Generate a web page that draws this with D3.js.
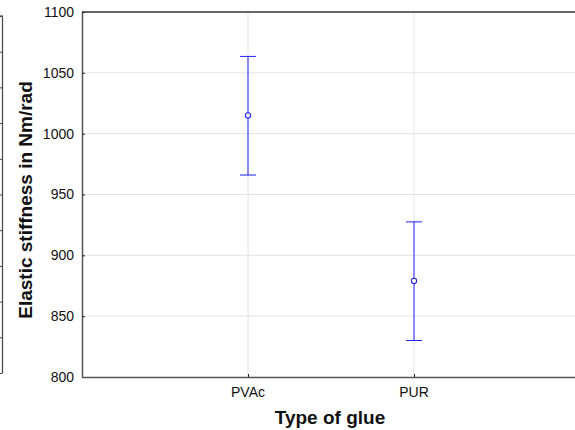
<!DOCTYPE html>
<html>
<head>
<meta charset="utf-8">
<script src="https://cdn.jsdelivr.net/npm/d3@7"></script>
<style>
  body { margin: 0; background: #fff; }
  svg { display: block; font-family: "Liberation Sans", Arial, sans-serif; }
</style>
</head>
<body>
<div id="chart"></div>
<script>
// glue types and the estimated stiffness (mean, lower, upper)
var glues = ["PVAc", "PUR"];
var means = [1015, 879];
var lowers = [966, 830];
var uppers = [1063.5, 927.5];
var yTicks = [800, 850, 900, 950, 1000, 1050, 1100];
var strayTicks = [0, 1, 2, 3, 4, 5, 6, 7, 8, 9, 10];

var w = 575, h = 430;
var plotLeft = 82, plotTop = 12, plotRight = 580, plotBottom = 377;

var svg = d3.select("#chart").append("svg")
  .attr("width", w)
  .attr("height", h);

var x = d3.scaleLinear().domain([0, 3]).range([plotLeft, plotRight]);
var y = d3.scaleLinear().domain([800, 1100]).range([plotBottom, plotTop]);

// grid
svg.append("g").selectAll("line.hg")
  .data(yTicks.slice(1, -1))
  .enter().append("line")
  .attr("x1", plotLeft).attr("x2", plotRight)
  .attr("y1", function(d) { return y(d); })
  .attr("y2", function(d) { return y(d); })
  .attr("stroke", "#e2e2e2").attr("stroke-width", 1);

svg.append("g").selectAll("line.vg")
  .data(glues)
  .enter().append("line")
  .attr("x1", function(d, i) { return x(i + 1); })
  .attr("x2", function(d, i) { return x(i + 1); })
  .attr("y1", plotTop).attr("y2", plotBottom)
  .attr("stroke", "#e2e2e2").attr("stroke-width", 1);

// top border
svg.append("line")
  .attr("x1", plotLeft).attr("x2", plotRight)
  .attr("y1", y(1100)).attr("y2", y(1100))
  .attr("stroke", "#333").attr("stroke-width", 1.5);

// y axis
var yAxis = svg.append("g")
  .attr("transform", "translate(" + plotLeft + ",0)")
  .call(d3.axisRight(y).tickValues(yTicks).tickSize(3).tickSizeOuter(0).tickFormat(""));
yAxis.select(".domain").attr("stroke", "#555").attr("stroke-width", 1.5);
yAxis.selectAll(".tick line").attr("stroke", "#222");

svg.append("g").selectAll("text")
  .data(yTicks)
  .enter().append("text")
  .attr("x", plotLeft - 8)
  .attr("y", function(d) { return y(d); })
  .attr("dy", "0.35em")
  .attr("text-anchor", "end")
  .attr("font-size", 14)
  .attr("fill", "#111")
  .text(function(d) { return d; });

// x axis
var xAxis = svg.append("g")
  .attr("transform", "translate(0," + plotBottom + ")")
  .call(d3.axisTop(x).tickValues([1, 2]).tickSize(3).tickSizeOuter(0).tickFormat(""));
xAxis.select(".domain").attr("stroke", "#555").attr("stroke-width", 1.5);
xAxis.selectAll(".tick line").attr("stroke", "#222");

svg.append("g").selectAll("text")
  .data(glues)
  .enter().append("text")
  .attr("x", function(d, i) { return x(i + 1); })
  .attr("y", plotBottom + 20)
  .attr("text-anchor", "middle")
  .attr("font-size", 14)
  .attr("fill", "#111")
  .text(function(d) { return d; });

// titles
svg.append("text")
  .attr("x", 330).attr("y", 424)
  .attr("text-anchor", "middle")
  .attr("font-size", 19).attr("font-weight", "bold")
  .attr("fill", "#111")
  .text("Type of glue");

svg.append("text")
  .attr("transform", "translate(32,200) rotate(-90)")
  .attr("text-anchor", "middle")
  .attr("font-size", 19).attr("font-weight", "bold")
  .attr("fill", "#111")
  .text("Elastic stiffness in Nm/rad");

// error bars
var bars = svg.append("g").selectAll("g")
  .data(glues)
  .enter().append("g");

bars.append("line")
  .attr("x1", function(d, i) { return x(i + 1); })
  .attr("x2", function(d, i) { return x(i + 1); })
  .attr("y1", function(d, i) { return y(uppers[i]); })
  .attr("y2", function(d, i) { return y(lowers[i]); })
  .attr("stroke", "#2222ff").attr("stroke-width", 1);

bars.append("line")
  .attr("x1", function(d, i) { return x(i + 1) - 8; })
  .attr("x2", function(d, i) { return x(i + 1) + 8; })
  .attr("y1", function(d, i) { return y(uppers[i]); })
  .attr("y2", function(d, i) { return y(uppers[i]); })
  .attr("stroke", "#2222ff").attr("stroke-width", 1);

bars.append("line")
  .attr("x1", function(d, i) { return x(i + 1) - 8; })
  .attr("x2", function(d, i) { return x(i + 1) + 8; })
  .attr("y1", function(d, i) { return y(lowers[i]); })
  .attr("y2", function(d, i) { return y(lowers[i]); })
  .attr("stroke", "#2222ff").attr("stroke-width", 1);

bars.append("circle")
  .attr("cx", function(d, i) { return x(i + 1); })
  .attr("cy", function(d, i) { return y(means[i]); })
  .attr("r", 2.6)
  .attr("fill", "#fff")
  .attr("stroke", "#2222ff").attr("stroke-width", 1.1);

// edge of the neighbouring panel at the far left
var ys = d3.scaleLinear().domain([0, 10]).range([373, 16]);
var stray = svg.append("g")
  .attr("transform", "translate(2,0)")
  .call(d3.axisLeft(ys).tickValues(strayTicks).tickSize(3).tickSizeOuter(0).tickFormat(""));
stray.select(".domain").attr("stroke", "#444").attr("stroke-width", 1.2);
stray.selectAll(".tick line").attr("stroke", "#444");
svg.append("line")
  .attr("x1", 0).attr("x2", 3)
  .attr("y1", ys(10)).attr("y2", ys(10))
  .attr("stroke", "#444").attr("stroke-width", 1.2);
</script>
</body>
</html>
